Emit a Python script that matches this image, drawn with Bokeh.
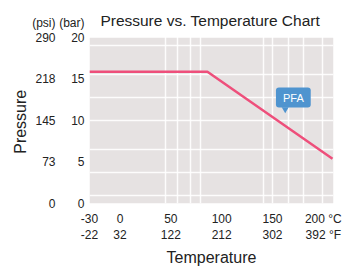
from bokeh.plotting import figure
from bokeh.models import Range1d, FixedTicker, LinearAxis, Label, BoxAnnotation
from bokeh.embed import file_html
from bokeh.resources import INLINE

# ---- data ----
temps_c = [-30, 86, 209]
pressure_bar = [15.9, 15.9, 5.4]

c_ticks = [-30, 0, 50, 100, 150, 200]
f_labels = ["-22", "32", "122", "212", "302", "392"]
bar_ticks = [0, 5, 10, 15, 20]
psi_labels = ["0", "73", "145", "218", "290"]
series_name = "PFA"
title_text = "Pressure vs. Temperature Chart"

FONT = "Liberation Sans"
INK = "#222222"

# chart area limits (data units)
X0, X1, Y0, Y1 = -30, 210, 0, 20

p = figure(width=354, height=271, output_backend="svg", toolbar_location=None,
           x_range=Range1d(X0, X1), y_range=Range1d(Y0, 24),
           min_border_left=89, min_border_top=4, min_border_right=21, min_border_bottom=68,
           background_fill_color="white", border_fill_color="white",
           outline_line_color=None)

# gray chart area
p.add_layout(BoxAnnotation(left=X0, right=X1, bottom=Y0, top=Y1, fill_color="#e6e2e2",
                           fill_alpha=1, line_color=None, level="image"))

# grid
p.xgrid.ticker = FixedTicker(ticks=[45, 57, 69, 79, 141, 150, 166, 180, 199])
p.ygrid.ticker = FixedTicker(ticks=[1, 3.75, 6.5, 10, 12.75, 15.5, 19])
for g in (p.xgrid, p.ygrid):
    g.grid_line_color = "white"
    g.grid_line_width = 1.5
    g.grid_line_alpha = 0.9

def style(ax, size="12px"):
    ax.axis_line_color = None
    ax.major_tick_line_color = None
    ax.minor_tick_line_color = None
    ax.major_tick_out = 0
    ax.major_tick_in = 0
    ax.minor_tick_out = 0
    ax.minor_tick_in = 0
    ax.major_label_text_font = FONT
    ax.major_label_text_font_size = size
    ax.major_label_text_color = INK
    ax.axis_label_text_font = FONT
    ax.axis_label_text_font_style = "normal"
    ax.axis_label_text_font_size = "16px"
    ax.axis_label_text_color = INK

# x axis: two-line labels (°C / °F), units after the last tick
xa = p.xaxis[0]
xa.ticker = FixedTicker(ticks=c_ticks)
overrides = {c: f"{c}\n{f}" for c, f in zip(c_ticks, f_labels)}
overrides[c_ticks[-1]] = f"{c_ticks[-1]}\u00a0°C\n{f_labels[-1]}\u00a0°F"
xa.major_label_overrides = overrides
xa.major_label_standoff = 8
xa.axis_label = "Temperature"
xa.axis_label_standoff = 4
style(xa)

# y axis (bar) with unit header
head_y = 21.8
ya = p.yaxis[0]
ya.ticker = FixedTicker(ticks=bar_ticks + [head_y])
ya.major_label_overrides = {head_y: "(bar)"}
ya.major_label_standoff = 5
style(ya)

# y axis (psi) with unit header
psi_over = {b: s for b, s in zip(bar_ticks, psi_labels)}
psi_over[head_y] = "(psi)"
psi_axis = LinearAxis(ticker=FixedTicker(ticks=bar_ticks + [head_y]),
                      major_label_overrides=psi_over,
                      axis_label="Pressure" + "\u00a0" * 8,
                      major_label_standoff=1, axis_label_standoff=0)
style(psi_axis)
p.add_layout(psi_axis, "left")

# line
p.line(temps_c, pressure_bar, line_color="#ee4f7b", line_width=2.5)

# PFA callout
lx, ly = 170.5, 12.77
p.scatter([lx - 8], [ly - 1.4], marker="inverted_triangle", size=7,
          fill_color="#4f94cf", line_color=None)
p.add_layout(Label(x=lx, y=ly, text=series_name, text_align="center", text_baseline="middle",
                   text_color="white", text_font=FONT, text_font_size="11px",
                   background_fill_color="#4f94cf", border_radius=3, padding=(7, 4)))

# title
p.add_layout(Label(x=-19.3, y=22.05, text=title_text, text_align="left",
                   text_baseline="middle", text_font=FONT, text_font_size="15.5px",
                   text_color=INK))

open("out.html", "w").write(file_html(p, INLINE))
